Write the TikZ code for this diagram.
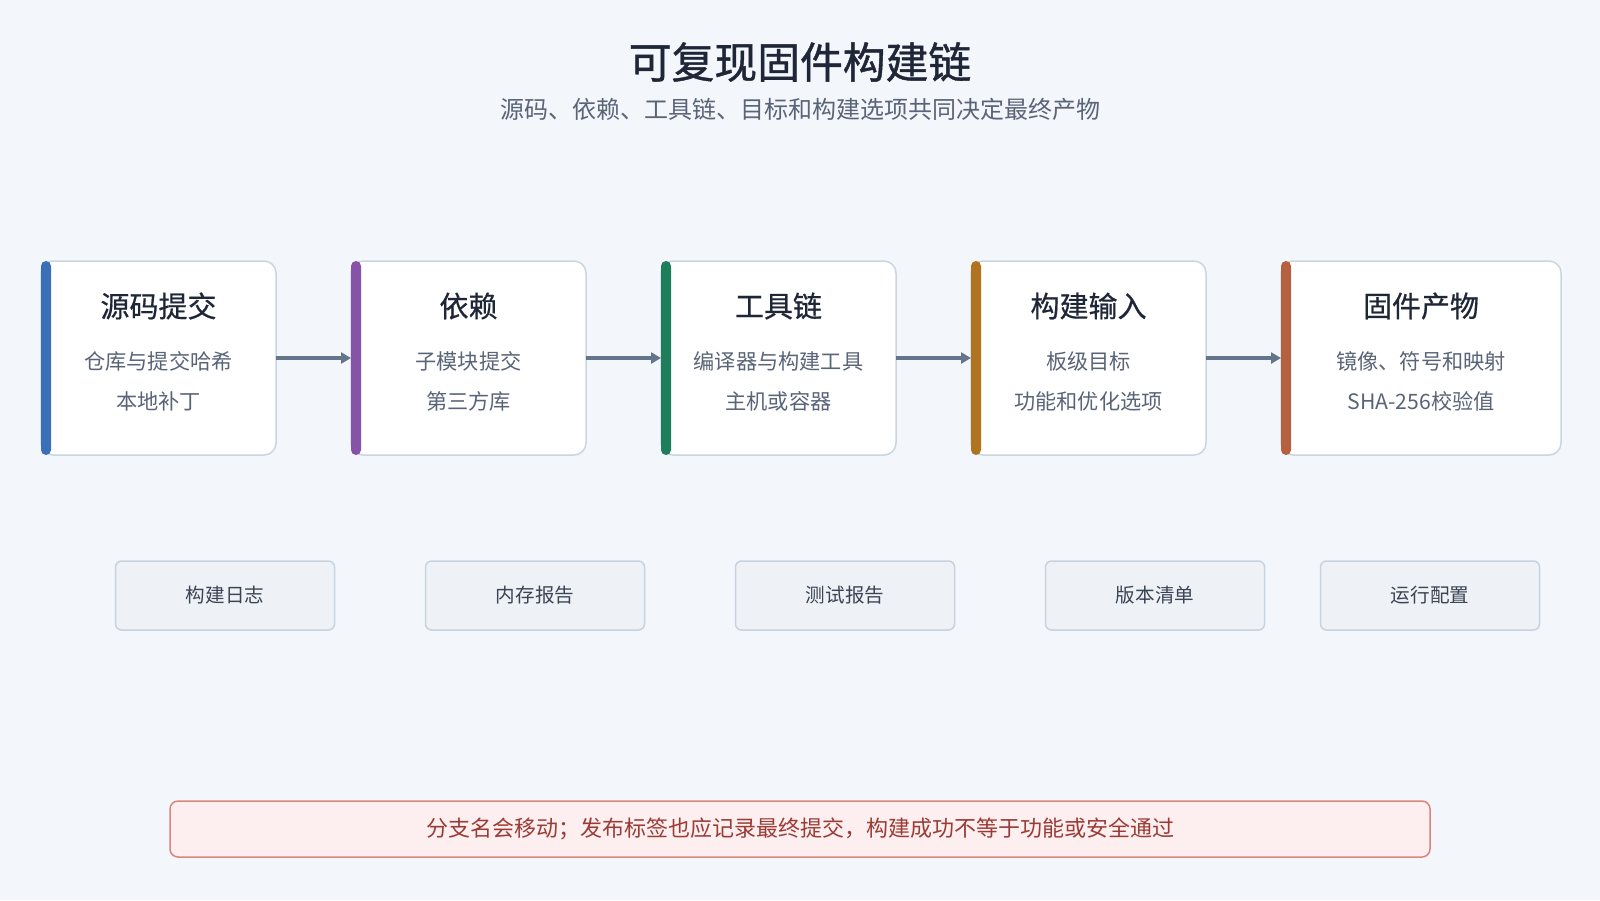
\documentclass[tikz,border=0pt]{standalone}
\usepackage{fontspec}
\setmainfont{Noto Sans CJK SC}
\usetikzlibrary{positioning,arrows.meta}

\definecolor{pagebg}{HTML}{F3F6FA}
\definecolor{boxline}{HTML}{CBD5E1}
\definecolor{inkdark}{HTML}{1F2637}
\definecolor{inkgray}{HTML}{5A6478}
\definecolor{arrowgray}{HTML}{64748B}
\definecolor{barblue}{HTML}{3A70B8}
\definecolor{barpurple}{HTML}{8753A8}
\definecolor{bargreen}{HTML}{1E7D5A}
\definecolor{barochre}{HTML}{B0731F}
\definecolor{barrust}{HTML}{B5603F}
\definecolor{outfill}{HTML}{EEF2F7}
\definecolor{outline}{HTML}{C8D3E0}
\definecolor{outink}{HTML}{3A4454}
\definecolor{notefill}{HTML}{FDEFEF}
\definecolor{noteline}{HTML}{D9867C}
\definecolor{noteink}{HTML}{9A3B36}

\begin{document}
\begin{tikzpicture}[x=0.5pt, y=-0.5pt, node distance=37.5pt,
    stage/.style={draw=boxline, fill=white, line width=0.75pt, rounded corners=6pt,
      minimum width=117.5pt, minimum height=97pt, outer sep=0pt},
    head/.style={text=inkdark, font=\fontsize{14.5pt}{17pt}\selectfont\addfontfeature{FakeBold=0.6}},
    detail/.style={text=inkgray, font=\fontsize{10.6pt}{12pt}\selectfont},
    output/.style={draw=outline, fill=outfill, line width=0.75pt, rounded corners=3pt,
      minimum width=109.5pt, minimum height=34.5pt, outer sep=0pt, text=outink,
      font=\fontsize{9.8pt}{12pt}\selectfont},
    flow/.style={draw=arrowgray, line width=1.6pt, -{Triangle[length=5pt,width=5.5pt]}}]
  % Background
  \fill[pagebg] (0,0) rectangle (1600,900);
  % Title
  \node[text=inkdark, font=\fontsize{21.4pt}{25pt}\selectfont\addfontfeature{FakeBold=1}] (title) at (800,62) {可复现固件构建链};
  \node[text=inkgray, font=\fontsize{12pt}{14pt}\selectfont] (subtitle) at (800,109) {源码、依赖、工具链、目标和构建选项共同决定最终产物};
  % Stages of the chain
  \node[stage] (s1) at (158.5,358) {};
  \node[stage, right=of s1] (s2) {};
  \node[stage, right=of s2] (s3) {};
  \node[stage, right=of s3] (s4) {};
  \node[stage, right=of s4, minimum width=140pt] (s5) {};
  % Coloured bars
  \fill[barblue, rounded corners=2.5pt] (s1.north west) rectangle ([xshift=5pt]s1.south west);
  \fill[barpurple, rounded corners=2.5pt] (s2.north west) rectangle ([xshift=5pt]s2.south west);
  \fill[bargreen, rounded corners=2.5pt] (s3.north west) rectangle ([xshift=5pt]s3.south west);
  \fill[barochre, rounded corners=2.5pt] (s4.north west) rectangle ([xshift=5pt]s4.south west);
  \fill[barrust, rounded corners=2.5pt] (s5.north west) rectangle ([xshift=5pt]s5.south west);
  % Stage texts
  \node[head] (s1h) at ([yshift=26pt]s1.center) {源码提交};
  \node[detail] (s1a) at ([yshift=-1.5pt]s1.center) {仓库与提交哈希};
  \node[detail] (s1b) at ([yshift=-21.5pt]s1.center) {本地补丁};
  \node[head] (s2h) at ([yshift=26pt]s2.center) {依赖};
  \node[detail] (s2a) at ([yshift=-1.5pt]s2.center) {子模块提交};
  \node[detail] (s2b) at ([yshift=-21.5pt]s2.center) {第三方库};
  \node[head] (s3h) at ([yshift=26pt]s3.center) {工具链};
  \node[detail] (s3a) at ([yshift=-1.5pt]s3.center) {编译器与构建工具};
  \node[detail] (s3b) at ([yshift=-21.5pt]s3.center) {主机或容器};
  \node[head] (s4h) at ([yshift=26pt]s4.center) {构建输入};
  \node[detail] (s4a) at ([yshift=-1.5pt]s4.center) {板级目标};
  \node[detail] (s4b) at ([yshift=-21.5pt]s4.center) {功能和优化选项};
  \node[head] (s5h) at ([yshift=26pt]s5.center) {固件产物};
  \node[detail] (s5a) at ([yshift=-1.5pt]s5.center) {镜像、符号和映射};
  \node[detail] (s5b) at ([yshift=-21.5pt]s5.center) {SHA-256校验值};
  % Arrows
  \draw[flow] (s1.east) -- (s2.west);
  \draw[flow] (s2.east) -- (s3.west);
  \draw[flow] (s3.east) -- (s4.west);
  \draw[flow] (s4.east) -- (s5.west);
  % Side outputs
  \node[output] (b1) at (225,595.5) {构建日志};
  \node[output, right=45.5pt of b1] (b2) {内存报告};
  \node[output, right=45.5pt of b2] (b3) {测试报告};
  \node[output, right=45.5pt of b3] (b4) {版本清单};
  \node[output, right=28pt of b4] (b5) {运行配置};
  % Note
  \node[draw=noteline, fill=notefill, line width=0.75pt, rounded corners=4pt,
    minimum width=630pt, minimum height=28pt, text=noteink,
    font=\fontsize{11pt}{12pt}\selectfont] (note) at (800,829)
    {分支名会移动；发布标签也应记录最终提交，构建成功不等于功能或安全通过};
\end{tikzpicture}
\end{document}
